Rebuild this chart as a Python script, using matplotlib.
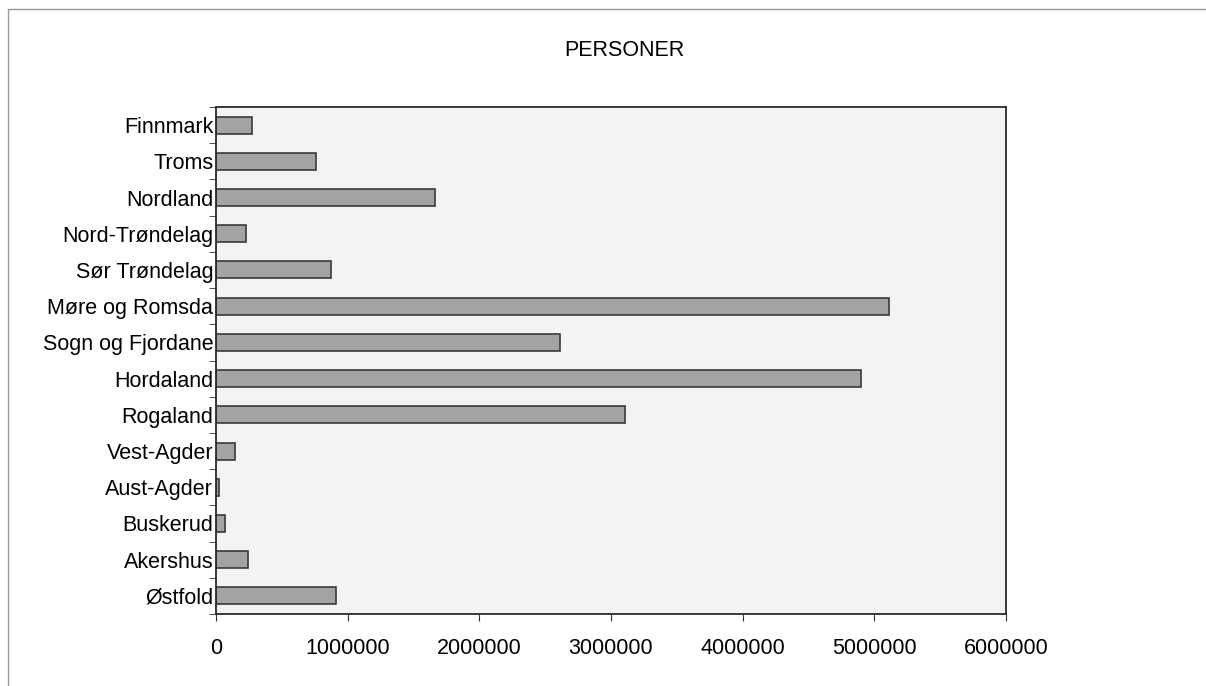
import numpy as np
import matplotlib.pyplot as plt
from matplotlib.patches import Rectangle

# fylker, top to bottom as drawn
fylker = ['Finnmark', 'Troms', 'Nordland', 'Nord-Trøndelag', 'Sør Trøndelag',
          'Møre og Romsda', 'Sogn og Fjordane', 'Hordaland', 'Rogaland',
          'Vest-Agder', 'Aust-Agder', 'Buskerud', 'Akershus', 'Østfold']
personer = [275000, 760000, 1660000, 225000, 870000,
            5110000, 2610000, 4900000, 3110000,
            145000, 25000, 68000, 245000, 915000]
x_ticks = [0, 1000000, 2000000, 3000000, 4000000, 5000000, 6000000]

plt.rcParams['font.family'] = ['Liberation Sans', 'DejaVu Sans']

fig = plt.figure(figsize=(12.06, 6.86), dpi=100)
fig.patch.set_facecolor('white')

# outer chart frame
fig.patches.append(Rectangle((8 / 1206, -0.01), 1.02, 1 - 9 / 686 + 0.01,
                             transform=fig.transFigure, fill=False,
                             edgecolor='#999999', linewidth=1.0))

ax = fig.add_axes([216 / 1206, 1 - 614 / 686, 790 / 1206, 507 / 686])
ax.set_facecolor('#f3f3f3')

y = np.arange(len(fylker))[::-1]
ax.barh(y, personer, height=0.47, color='#a3a3a3', edgecolor='#3a3a3a',
        linewidth=1.2)

ax.set_xlim(0, 6000000)
ax.set_ylim(-0.5, len(fylker) - 0.5)
ax.set_xticks(x_ticks)
ax.set_xticklabels([str(v) for v in x_ticks], fontsize=15.5)
ax.set_yticks(y)
ax.set_yticklabels(fylker, fontsize=15.5)
ax.tick_params(axis='y', length=0, pad=2)
ax.tick_params(axis='x', length=5, pad=12, color='#333333')

# Excel style ticks between categories
ax.set_yticks(np.arange(-0.5, len(fylker), 1), minor=True)
ax.tick_params(axis='y', which='minor', length=5, color='#333333')

for s in ax.spines.values():
    s.set_color('#2a2a2a')
    s.set_linewidth(1.3)

fig.text(624 / 1206, 1 - 50 / 686, 'PERSONER', ha='center', va='center',
         fontsize=15.5)

fig.savefig('out.png', dpi=100)
